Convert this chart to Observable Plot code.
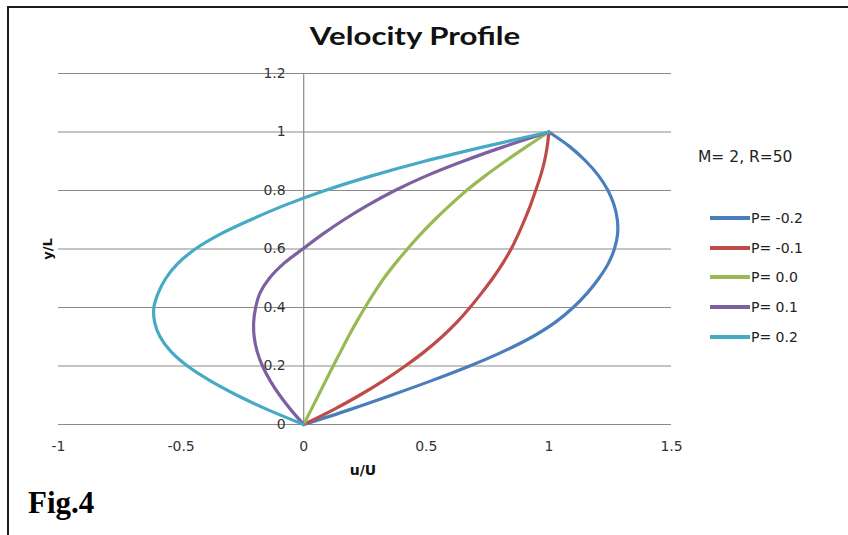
<!DOCTYPE html>
<html>
<head>
<meta charset="utf-8">
<script src="https://cdn.jsdelivr.net/npm/d3@7"></script>
<script src="https://cdn.jsdelivr.net/npm/@observablehq/plot@0.6"></script>
<style>
  html, body { margin: 0; padding: 0; background: #fff; }
  #wrap { position: relative; width: 848px; height: 535px; overflow: hidden; background: #fff; }
  #frame { position: absolute; left: 7px; top: 6px; width: 900px; height: 600px;
           border-top: 2px solid #1b1b1b; border-left: 2px solid #1b1b1b; }
  #chart { position: absolute; left: 0; top: 0; }
  .t { position: absolute; white-space: nowrap; line-height: 1; color: #111; }
  #title { font-family: Lato, "Open Sans", sans-serif; font-weight: 700; font-size: 24px;
           left: 415px; top: 24px; transform: translateX(-50%) scaleX(1.3); }
  #xlab { font-family: "DejaVu Sans", sans-serif; font-weight: 700; font-size: 14px;
          left: 363px; top: 463px; transform: translateX(-50%); }
  #ylab { font-family: "DejaVu Sans", sans-serif; font-weight: 700; font-size: 13px;
          left: 47px; top: 249px; transform: translate(-50%, -50%) rotate(-90deg); }
  #note { font-family: "DejaVu Sans", sans-serif; font-size: 15.5px; left: 698px; top: 150px; color: #222; }
  #fig { font-family: "Liberation Serif", serif; font-weight: 700; font-size: 31px; left: 28px; top: 487px; color: #000; }
  .leg-line { position: absolute; width: 40px; height: 4px; }
  .leg-text { position: absolute; font-family: "DejaVu Sans", sans-serif; font-size: 14px; line-height: 1; color: #222; white-space: nowrap; }
</style>
</head>
<body>
<div id="wrap">
  <div id="frame"></div>
  <div id="chart"></div>
  <div id="title" class="t">Velocity Profile</div>
  <div id="xlab" class="t">u/U</div>
  <div id="ylab" class="t">y/L</div>
  <div id="note" class="t">M= 2, R=50</div>
  <div id="fig" class="t">Fig.4</div>
</div>
<script>
// ---- data ----
const yL = [0, 0.05, 0.1, 0.15, 0.2, 0.25, 0.3, 0.35, 0.4, 0.45, 0.5, 0.55, 0.6, 0.65, 0.7, 0.75, 0.8, 0.85, 0.9, 0.95, 1];

const uPm02 = [0, 0.185, 0.357, 0.522, 0.677, 0.815, 0.933, 1.027, 1.099, 1.157, 1.204, 1.242, 1.267, 1.28, 1.279, 1.266, 1.241, 1.203, 1.151, 1.085, 1];
const uPm01 = [0, 0.12, 0.228, 0.326, 0.414, 0.494, 0.564, 0.625, 0.678, 0.726, 0.771, 0.811, 0.846, 0.875, 0.901, 0.925, 0.946, 0.966, 0.982, 0.993, 1];
const uP00  = [0, 0.03, 0.06, 0.09, 0.12, 0.151, 0.182, 0.215, 0.25, 0.287, 0.327, 0.373, 0.423, 0.476, 0.534, 0.597, 0.664, 0.74, 0.822, 0.909, 1];
const uP01  = [0, -0.052, -0.098, -0.137, -0.168, -0.19, -0.202, -0.204, -0.196, -0.178, -0.14, -0.082, -0.004, 0.076, 0.164, 0.262, 0.372, 0.5, 0.65, 0.817, 1];
const uP02  = [0, -0.145, -0.272, -0.382, -0.474, -0.542, -0.586, -0.608, -0.611, -0.593, -0.562, -0.514, -0.442, -0.342, -0.216, -0.076, 0.087, 0.277, 0.493, 0.738, 1];

const seriesNames = ["P= -0.2", "P= -0.1", "P= 0.0", "P= 0.1", "P= 0.2"];
const seriesValues = [uPm02, uPm01, uP00, uP01, uP02];
const seriesColors = ["#4a7ebb", "#be4b48", "#98b954", "#7d60a0", "#46aac5"];

const xTicks = [-1, -0.5, 0, 0.5, 1, 1.5];
const yTicks = [0, 0.2, 0.4, 0.6, 0.8, 1, 1.2];

// ---- table for Plot ----
const rows = [];
seriesNames.forEach((name, i) => {
  seriesValues[i].forEach((u, j) => rows.push({series: name, u, y: yL[j]}));
});

const chart = Plot.plot({
  width: 848,
  height: 535,
  marginLeft: 58,
  marginRight: 177,
  marginTop: 73,
  marginBottom: 111,
  style: {fontFamily: "'DejaVu Sans', sans-serif", background: "transparent", color: "#333"},
  x: {domain: [-1, 1.5], label: null},
  y: {domain: [0, 1.2], label: null, axis: null},
  color: {domain: seriesNames, range: seriesColors},
  marks: [
    Plot.ruleY(yTicks, {stroke: "#8a8a8a", strokeWidth: 1.2, strokeOpacity: 1}),
    Plot.ruleX([0], {stroke: "#8a8a8a", strokeWidth: 1.2, strokeOpacity: 1}),
    Plot.text(yTicks, {x: 0, y: d => d, text: d => String(d), textAnchor: "end", dx: -18, fontSize: 14, fill: "#333"}),
    Plot.axisX(xTicks, {tickSize: 0, tickPadding: 17, tickFormat: d => String(d), fontSize: 14, fill: "#333", label: null}),
    Plot.line(rows, {x: "u", y: "y", z: "series", stroke: "series", strokeWidth: 3.2, curve: "catmull-rom"})
  ]
});
document.getElementById("chart").appendChild(chart);

// ---- legend ----
const wrap = document.getElementById("wrap");
const legY = [218, 248, 277, 307, 337];
seriesNames.forEach((name, i) => {
  const ln = document.createElement("div");
  ln.className = "leg-line";
  ln.style.left = "710px";
  ln.style.top = (legY[i] - 2) + "px";
  ln.style.background = seriesColors[i];
  wrap.appendChild(ln);
  const tx = document.createElement("div");
  tx.className = "leg-text";
  tx.style.left = "751px";
  tx.style.top = (legY[i] - 7) + "px";
  tx.textContent = name;
  wrap.appendChild(tx);
});
</script>
</body>
</html>
